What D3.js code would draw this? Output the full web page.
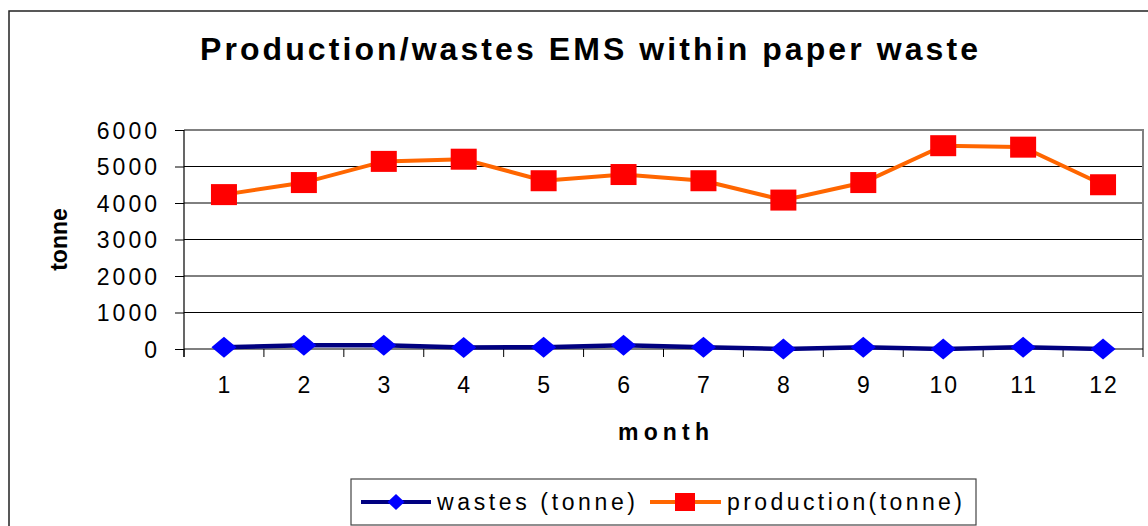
<!DOCTYPE html>
<html>
<head>
<meta charset="utf-8">
<script src="https://cdn.jsdelivr.net/npm/d3@7"></script>
<style>
  body { margin: 0; background: #fff; }
  text { font-family: "Liberation Sans", Arial, sans-serif; fill: #000; }
</style>
</head>
<body>
<div id="chart"></div>
<script>
const months = [1, 2, 3, 4, 5, 6, 7, 8, 9, 10, 11, 12]
const wastes = [50, 100, 100, 40, 50, 100, 50, 0, 50, 0, 50, 0]
const production = [4230, 4560, 5140, 5200, 4610, 4780, 4610, 4080, 4560, 5570, 5530, 4500]
const yTicks = [0, 1000, 2000, 3000, 4000, 5000, 6000]

const W = 1148, H = 526
const plot = {left: 184, right: 1143, top: 130, bottom: 349}

const svg = d3.select("#chart")
  .append("svg")
    .attr("width", W)
    .attr("height", H)

// outer frame
svg.append("rect")
  .attr("x", 9).attr("y", 11)
  .attr("width", 1170).attr("height", 540)
  .attr("fill", "none")
  .attr("stroke", "#222")
  .attr("stroke-width", 1.5)

// title
svg.append("text")
  .attr("x", 589).attr("y", 60)
  .attr("text-anchor", "middle")
  .attr("font-size", 32)
  .attr("font-weight", "bold")
  .attr("textLength", 778)
  .attr("lengthAdjust", "spacing")
  .text("Production/wastes EMS within paper waste")

// scales
const x = d3.scaleBand()
  .domain(months)
  .range([plot.left, plot.right])
  .padding(0)

const y = d3.scaleLinear()
  .domain([0, 6000])
  .range([plot.bottom, plot.top])

// gridlines
svg.append("g")
  .selectAll("line")
  .data(yTicks.filter(d => d > 0 && d < 6000))
  .join("line")
    .attr("x1", plot.left).attr("x2", plot.right)
    .attr("y1", d => y(d)).attr("y2", d => y(d))
    .attr("stroke", "#000")
    .attr("stroke-width", 1)

// plot border top/right (gray)
svg.append("path")
  .attr("d", `M${plot.left},${plot.top}H${plot.right}V${plot.bottom}`)
  .attr("fill", "none")
  .attr("stroke", "#808080")
  .attr("stroke-width", 2)

// y axis
const yAxis = svg.append("g")
  .attr("transform", `translate(${plot.left},0)`)
  .call(d3.axisLeft(y).tickValues(yTicks).tickSize(9).tickPadding(18).tickFormat(d3.format("d")))
yAxis.select(".domain").remove()
yAxis.selectAll(".tick line").attr("stroke", "#000")
yAxis.selectAll(".tick text")
  .attr("font-size", 23)
  .attr("font-family", null)
  .attr("letter-spacing", 3)
  .attr("dx", 3)
  .attr("dy", "0.36em")
svg.append("line")
  .attr("x1", plot.left).attr("x2", plot.left)
  .attr("y1", plot.top).attr("y2", plot.bottom + 8)
  .attr("stroke", "#000").attr("stroke-width", 1.2)

// x axis
const xAxis = svg.append("g")
  .attr("transform", `translate(0,${plot.bottom})`)
  .call(d3.axisBottom(x).tickSize(0).tickPadding(28))
xAxis.select(".domain").remove()
xAxis.selectAll(".tick text")
  .attr("font-size", 23)
  .attr("font-family", null)
  .attr("letter-spacing", 2)
  .attr("dx", 1)
svg.append("line")
  .attr("x1", plot.left).attr("x2", plot.right)
  .attr("y1", plot.bottom).attr("y2", plot.bottom)
  .attr("stroke", "#000").attr("stroke-width", 1.2)
svg.append("g")
  .selectAll("line")
  .data(months.map(m => x(m)).concat([plot.right]))
  .join("line")
    .attr("x1", d => d).attr("x2", d => d)
    .attr("y1", plot.bottom).attr("y2", plot.bottom + 8)
    .attr("stroke", "#000")

// axis titles
svg.append("text")
  .attr("x", (plot.left + plot.right) / 2).attr("y", 440)
  .attr("text-anchor", "middle")
  .attr("font-size", 23)
  .attr("font-weight", "bold")
  .attr("textLength", 91)
  .attr("lengthAdjust", "spacing")
  .text("month")

svg.append("text")
  .attr("transform", `translate(67,${(plot.top + plot.bottom) / 2}) rotate(-90)`)
  .attr("text-anchor", "middle")
  .attr("font-size", 23)
  .attr("font-weight", "bold")
  .text("tonne")

// lines
const cx = (d, i) => x(months[i]) + x.bandwidth() / 2
const line = d3.line().x(cx).y(d => y(d))

svg.append("path")
  .datum(wastes)
  .attr("d", line)
  .attr("fill", "none")
  .attr("stroke", "#000080")
  .attr("stroke-width", 4.5)

svg.append("path")
  .datum(production)
  .attr("d", line)
  .attr("fill", "none")
  .attr("stroke", "#FF6600")
  .attr("stroke-width", 4)

// markers
const diamond = (w, h) => `M0,${-h / 2}L${w / 2},0L0,${h / 2}L${-w / 2},0Z`

svg.append("g")
  .selectAll("path")
  .data(wastes)
  .join("path")
    .attr("transform", (d, i) => `translate(${cx(d, i)},${y(d)})`)
    .attr("d", diamond(25, 21))
    .attr("fill", "#0000FF")

svg.append("g")
  .selectAll("rect")
  .data(production)
  .join("rect")
    .attr("x", (d, i) => cx(d, i) - 13)
    .attr("y", d => y(d) - 10.5)
    .attr("width", 26)
    .attr("height", 21)
    .attr("fill", "#FF0000")

// legend
const lg = svg.append("g")
lg.append("rect")
  .attr("x", 351).attr("y", 479)
  .attr("width", 625).attr("height", 46)
  .attr("fill", "#fff")
  .attr("stroke", "#444")
  .attr("stroke-width", 1.2)

lg.append("line")
  .attr("x1", 361).attr("x2", 431).attr("y1", 502).attr("y2", 502)
  .attr("stroke", "#000080").attr("stroke-width", 4)
lg.append("path")
  .attr("transform", "translate(396,502)")
  .attr("d", diamond(17, 16))
  .attr("fill", "#0000FF")
lg.append("text")
  .attr("x", 437).attr("y", 510)
  .attr("font-size", 23)
  .attr("textLength", 198)
  .attr("lengthAdjust", "spacing")
  .text("wastes (tonne)")

lg.append("line")
  .attr("x1", 650).attr("x2", 721).attr("y1", 502).attr("y2", 502)
  .attr("stroke", "#FF6600").attr("stroke-width", 4)
lg.append("rect")
  .attr("x", 675).attr("y", 493)
  .attr("width", 20).attr("height", 18)
  .attr("fill", "#FF0000")
lg.append("text")
  .attr("x", 727).attr("y", 510)
  .attr("font-size", 23)
  .attr("textLength", 235)
  .attr("lengthAdjust", "spacing")
  .text("production(tonne)")
</script>
</body>
</html>
